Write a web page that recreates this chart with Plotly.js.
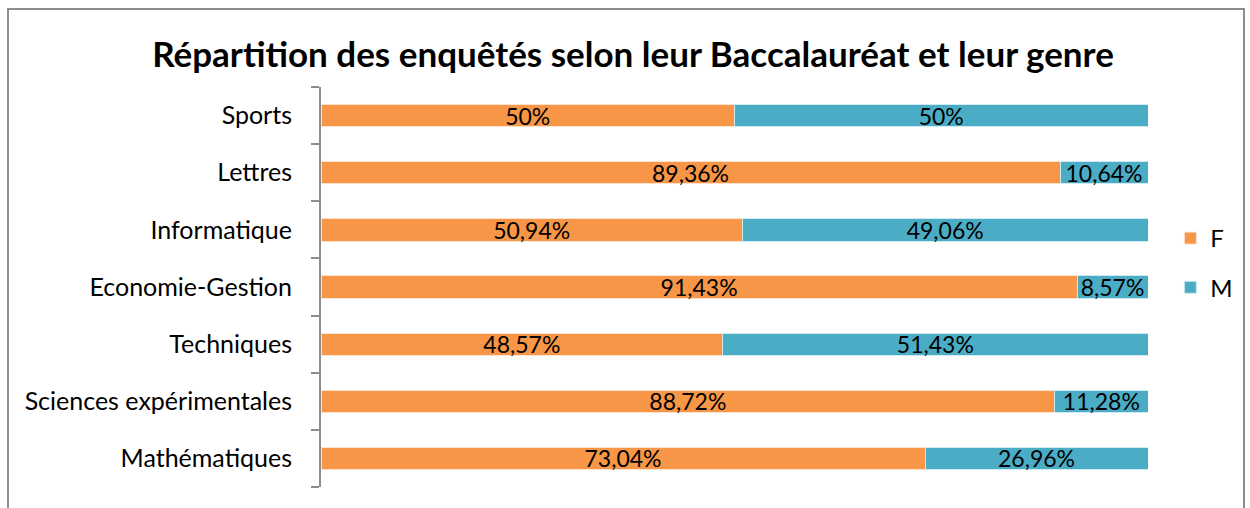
<!DOCTYPE html>
<html>
<head>
<meta charset="utf-8">
<script src="https://cdn.plot.ly/plotly-3.0.1.min.js"></script>
<style>
html,body{margin:0;padding:0;background:#fff;}
#wrap{position:relative;width:1250px;height:508px;overflow:hidden;}
#chart{position:absolute;left:0;top:0;width:1250px;height:508px;}
#frame{position:absolute;left:7px;top:8px;width:1234px;height:600px;border:2px solid #8c8c8c;pointer-events:none;}
</style>
</head>
<body>
<div id="wrap"><div id="chart"></div><div id="frame"></div></div>
<script>
const categories = ["Mathématiques","Sciences expérimentales","Techniques","Economie-Gestion","Informatique","Lettres","Sports"];
const valuesF = [73.04, 88.72, 48.57, 91.43, 50.94, 89.36, 50];
const valuesM = [26.96, 11.28, 51.43, 8.57, 49.06, 10.64, 50];
const seriesNames = ["F","M"];

const fmt = v => String(v).replace('.', ',') + '%';
const font = "Lato, 'Open Sans', sans-serif";

const traces = [
  {type:'bar', orientation:'h', name:seriesNames[0], y:categories, x:valuesF,
   text:valuesF.map(fmt), textposition:'inside', insidetextanchor:'middle', constraintext:'none',
   textfont:{family:font, size:23, color:'#000'},
   marker:{color:'#F79646', line:{color:'#fde3cf', width:1}}, width:0.39,
   legendgroup:'F', hoverinfo:'none'},
  {type:'bar', orientation:'h', name:seriesNames[1], y:categories, x:valuesM,
   text:valuesM.map(fmt), textposition:'inside', insidetextanchor:'middle', constraintext:'none',
   textfont:{family:font, size:23, color:'#000'},
   marker:{color:'#4BACC6', line:{color:'#cfeaf1', width:1}}, width:0.39,
   legendgroup:'M', hoverinfo:'none'}
];

const layout = {
  width:1250, height:508,
  margin:{l:321, r:102, t:87, b:21, autoexpand:false},
  paper_bgcolor:'#fff', plot_bgcolor:'#fff',
  barmode:'stack',
  title:{text:'<b>Répartition des enquêtés selon leur Baccalauréat et leur genre</b>',
         font:{family:font, size:35, color:'#000'}, x:633/1250, xref:'container', xanchor:'center',
         y:1-55/508, yanchor:'middle', yref:'container'},
  xaxis:{range:[0,100], visible:false, showgrid:false, zeroline:false, fixedrange:true},
  yaxis:{type:'category', categoryorder:'array', categoryarray:categories,
         showline:true, linecolor:'#8c8c8c', linewidth:2,
         ticks:'outside', tickson:'boundaries', ticklen:8, tickcolor:'#8c8c8c', tickwidth:2,
         ticklabelstandoff:22,
         tickfont:{family:font, size:25, color:'#000'}, showgrid:false, zeroline:false},
  showlegend:true,
  legend:{x:1.027, xanchor:'left', y:0.56, yanchor:'middle', traceorder:'grouped',
          tracegroupgap:15, font:{family:font, size:24, color:'#000'}, bgcolor:'rgba(0,0,0,0)'},
  uniformtext:{mode:false}
};

Plotly.newPlot('chart', traces, layout, {displayModeBar:false, staticPlot:true});
</script>
</body>
</html>
